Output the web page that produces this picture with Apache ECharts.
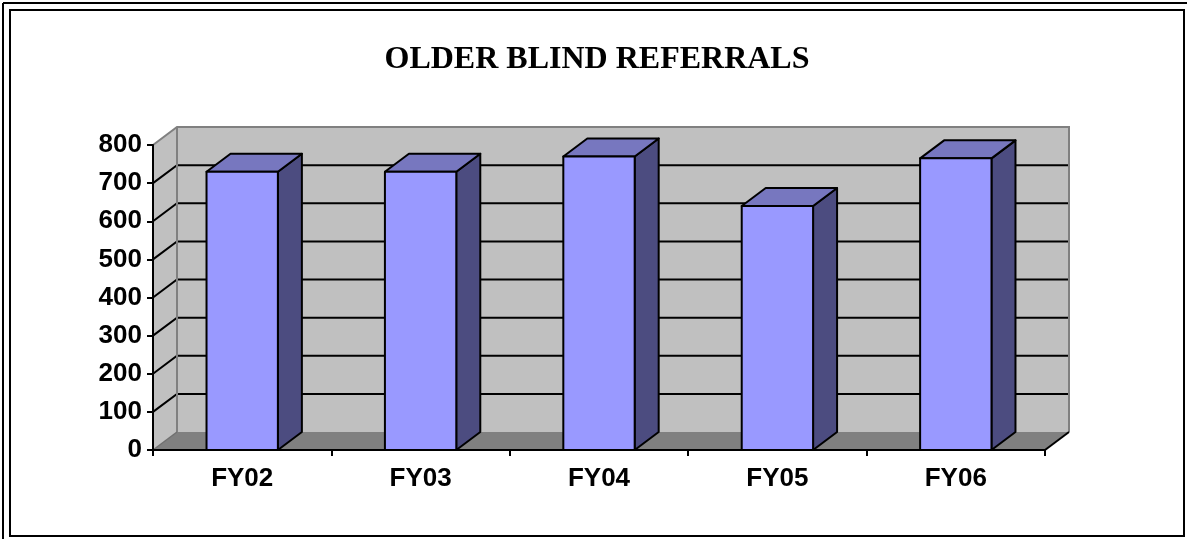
<!DOCTYPE html>
<html>
<head>
<meta charset="utf-8">
<script src="https://cdn.jsdelivr.net/npm/echarts@6/dist/echarts.min.js"></script>
<style>
html,body{margin:0;padding:0;background:#fff;}
#chart{width:1187px;height:539px;}
</style>
</head>
<body>
<div id="chart"></div>
<script>
const titleText = 'OLDER BLIND REFERRALS';
const categories = ['FY02', 'FY03', 'FY04', 'FY05', 'FY06'];
const referrals = [730, 730, 770, 640, 765];
const yTicks = [0, 100, 200, 300, 400, 500, 600, 700, 800];

const DX = 24, DY = -18;
const chart = echarts.init(document.getElementById('chart'), null, {renderer: 'canvas'});

function renderWalls(params, api) {
  const cs = params.coordSys;
  const x0 = cs.x, x1 = cs.x + cs.width;
  const yTop = api.coord([0, yTicks[yTicks.length - 1]])[1];
  const yBot = api.coord([0, yTicks[0]])[1];
  const children = [];
  children.push({type: 'polygon', shape: {points: [[x0 + DX, yTop + DY], [x1 + DX, yTop + DY], [x1 + DX, yBot + DY], [x0 + DX, yBot + DY]]}, style: {fill: '#c0c0c0'}});
  children.push({type: 'polygon', shape: {points: [[x0, yTop], [x0 + DX, yTop + DY], [x0 + DX, yBot + DY], [x0, yBot]]}, style: {fill: '#c0c0c0'}});
  children.push({type: 'polygon', shape: {points: [[x0, yBot], [x0 + DX, yBot + DY], [x1 + DX, yBot + DY], [x1, yBot]]}, style: {fill: '#808080'}});
  yTicks.slice(1, -1).forEach(function (v) {
    const y = api.coord([0, v])[1];
    children.push({type: 'polyline', shape: {points: [[x0, y], [x0 + DX, y + DY], [x1 + DX, y + DY]]}, style: {stroke: '#000', lineWidth: 2, fill: null}});
  });
  children.push({type: 'polyline', shape: {points: [[x0, yTop], [x0 + DX, yTop + DY], [x1 + DX, yTop + DY], [x1 + DX, yBot + DY]]}, style: {stroke: '#808080', lineWidth: 2, fill: null}});
  children.push({type: 'line', shape: {x1: x0 + DX, y1: yTop + DY, x2: x0 + DX, y2: yBot + DY}, style: {stroke: '#808080', lineWidth: 2}});
  children.push({type: 'line', shape: {x1: x0, y1: yBot, x2: x0 + DX, y2: yBot + DY}, style: {stroke: '#707070', lineWidth: 1.5}});
  children.push({type: 'line', shape: {x1: x1, y1: yBot, x2: x1 + DX, y2: yBot + DY}, style: {stroke: '#000', lineWidth: 2}});
  return {type: 'group', children: children};
}

function renderBar(params, api) {
  const i = api.value(0), v = api.value(1);
  const top = api.coord([i, v]);
  const base = api.coord([i, 0]);
  const w = api.size([1, 0])[0] * 0.4;
  const xl = top[0] - w / 2, xr = top[0] + w / 2, yt = top[1], yb = base[1];
  const stroke = {stroke: '#000', lineWidth: 2, lineJoin: 'round'};
  return {type: 'group', children: [
    {type: 'polygon', shape: {points: [[xr, yt], [xr + DX, yt + DY], [xr + DX, yb + DY], [xr, yb]]}, style: Object.assign({fill: '#4c4c80'}, stroke)},
    {type: 'polygon', shape: {points: [[xl, yt], [xl + DX, yt + DY], [xr + DX, yt + DY], [xr, yt]]}, style: Object.assign({fill: '#7777bf'}, stroke)},
    {type: 'rect', shape: {x: xl, y: yt, width: w, height: yb - yt}, style: Object.assign({fill: '#9999ff'}, stroke)}
  ]};
}

const option = {
  animation: false,
  backgroundColor: '#fff',
  title: {
    text: titleText, left: 592, top: 39, textAlign: 'center',
    textStyle: {fontFamily: 'Liberation Serif', fontWeight: 'bold', fontSize: 32, color: '#000'}
  },
  grid: {left: 153, right: 142, top: 145, bottom: 89},
  xAxis: {
    type: 'category', data: categories, z: 5,
    axisLine: {lineStyle: {color: '#000', width: 2}},
    axisTick: {show: true, length: 6, lineStyle: {color: '#000', width: 2}},
    axisLabel: {fontFamily: 'Liberation Sans', fontWeight: 'bold', fontSize: 26, color: '#000', margin: 16}
  },
  yAxis: {
    type: 'value', min: 0, max: 800, interval: 100, z: 5,
    axisLine: {show: true, lineStyle: {color: '#000', width: 2}},
    axisTick: {show: true, length: 6, lineStyle: {color: '#000', width: 2}},
    splitLine: {show: false},
    axisLabel: {fontFamily: 'Liberation Sans', fontWeight: 'bold', fontSize: 26, color: '#000', margin: 11}
  },
  series: [
    {type: 'custom', renderItem: renderWalls, data: [[0, 0]], z: 1, silent: true, clip: false},
    {type: 'custom', renderItem: renderBar, data: referrals.map(function (v, i) { return [i, v]; }), encode: {x: 0, y: 1}, z: 3, clip: false}
  ],
  graphic: [
    {type: 'line', shape: {x1: 3, y1: 3, x2: 1187, y2: 3}, style: {stroke: '#000', lineWidth: 2}, z: 10},
    {type: 'line', shape: {x1: 3, y1: 3, x2: 3, y2: 539}, style: {stroke: '#000', lineWidth: 2}, z: 10},
    {type: 'rect', shape: {x: 10, y: 10, width: 1174, height: 526}, style: {stroke: '#000', lineWidth: 2, fill: null}, z: 10}
  ]
};
chart.setOption(option);
</script>
</body>
</html>
